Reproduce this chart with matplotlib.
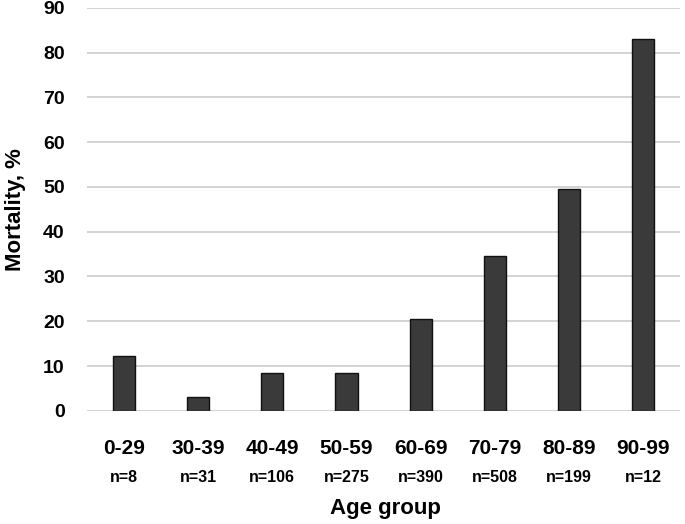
import numpy as np
import matplotlib.pyplot as plt
import matplotlib.transforms as mtransforms

age_groups = ["0-29", "30-39", "40-49", "50-59", "60-69", "70-79", "80-89", "90-99"]
mortality = [12.3, 3.1, 8.5, 8.5, 20.5, 34.6, 49.5, 83.0]
n_labels = ["n=8", "n=31", "n=106", "n=275", "n=390", "n=508", "n=199", "n=12"]
y_ticks = [0, 10, 20, 30, 40, 50, 60, 70, 80, 90]

plt.rcParams['font.family'] = ['Liberation Sans', 'DejaVu Sans']

fig = plt.figure(figsize=(6.85, 5.24), dpi=100)
ax = fig.add_axes([0.127, 0.216, 0.866, 0.769])

x = np.arange(len(age_groups))
ax.bar(x, mortality, width=0.3, color='#3a3a3a', edgecolor='#111111', linewidth=1, zorder=3)

ax.set_xlim(-0.5, len(age_groups) - 0.5)
ax.set_ylim(0, 90)
ax.set_yticks(y_ticks)
ax.set_yticklabels([str(t) for t in y_ticks], fontsize=14, fontweight='bold')
ax.set_xticks(x)
ax.set_xticklabels(age_groups, fontsize=15, fontweight='bold')
ax.tick_params(axis='both', length=0)
ax.tick_params(axis='x', pad=20)
ax.tick_params(axis='y', pad=16)

ax.yaxis.grid(True, color='#cccccc', linewidth=1.2, zorder=0)
for s in ax.spines.values():
    s.set_visible(False)

trans = mtransforms.blended_transform_factory(ax.transData, ax.transAxes)
for xi, lab in zip(x, n_labels):
    ax.text(xi, -0.165, lab, transform=trans, ha='center', va='center',
            fontsize=11.5, fontweight='bold')

fig.text(0.562, 0.03, "Age group", ha='center', va='center', fontsize=16, fontweight='bold')
fig.text(0.022, 0.6, "Mortality, %", ha='center', va='center', rotation=90,
         fontsize=16, fontweight='bold')

fig.savefig("out.png", dpi=100)
